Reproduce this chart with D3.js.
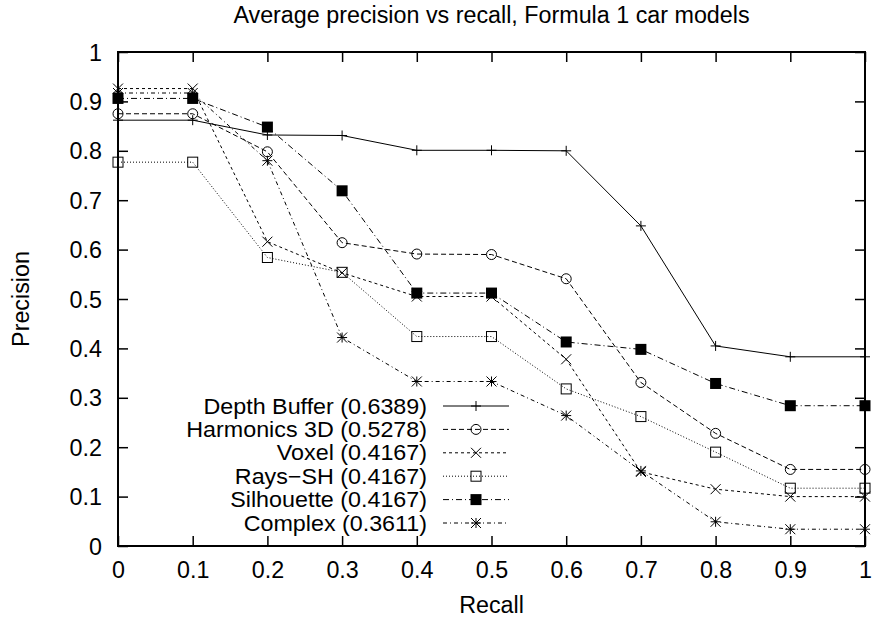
<!DOCTYPE html>
<html>
<head>
<meta charset="utf-8">
<script src="https://cdn.jsdelivr.net/npm/d3@7"></script>
<style>
  html, body { margin: 0; padding: 0; background: #fff; }
  svg text { font-family: "Liberation Sans", Arial, Helvetica, sans-serif; fill: #000; }
</style>
</head>
<body>
<svg id="chart" width="873" height="618"></svg>
<script>
// Recall levels (x) and interpolated average precision per descriptor (y)
const recall = [0, 0.1, 0.2, 0.3, 0.4, 0.5, 0.6, 0.7, 0.8, 0.9, 1.0];
const depthBuffer = [0.862, 0.862, 0.832, 0.831, 0.801, 0.801, 0.800, 0.648, 0.405, 0.383, 0.383];
const harmonics3D = [0.875, 0.875, 0.798, 0.614, 0.591, 0.590, 0.541, 0.331, 0.228, 0.155, 0.155];
const voxel       = [0.926, 0.926, 0.616, 0.553, 0.505, 0.505, 0.378, 0.150, 0.115, 0.100, 0.100];
const raysSH      = [0.777, 0.777, 0.584, 0.554, 0.424, 0.424, 0.318, 0.262, 0.190, 0.117, 0.117];
const silhouette  = [0.906, 0.906, 0.848, 0.719, 0.512, 0.512, 0.413, 0.398, 0.329, 0.284, 0.284];
const complex     = [0.917, 0.917, 0.780, 0.422, 0.333, 0.333, 0.264, 0.152, 0.049, 0.034, 0.034];

const seriesNames = ["Depth Buffer (0.6389)", "Harmonics 3D (0.5278)", "Voxel (0.4167)",
                     "Rays\u2212SH (0.4167)", "Silhouette (0.4167)", "Complex (0.3611)"];
const seriesValues = [depthBuffer, harmonics3D, voxel, raysSH, silhouette, complex];
const xTicks = [0, 0.1, 0.2, 0.3, 0.4, 0.5, 0.6, 0.7, 0.8, 0.9, 1];
const yTicks = [0, 0.1, 0.2, 0.3, 0.4, 0.5, 0.6, 0.7, 0.8, 0.9, 1];

const titleText = "Average precision vs recall, Formula 1 car models";
const xLabel = "Recall";
const yLabel = "Precision";

// Line dash patterns and marker kinds, one per series
const dashes = [null, "5,3", "3,3", "1,2", "6,3,1,3", "4,3,1,3"];
const markers = ["plus", "circle", "cross", "square", "filledSquare", "star"];

const svg = d3.select("#chart");
const margin = { left: 118, right: 8, top: 52, bottom: 72 };
const W = 873, H = 618;
const x = d3.scaleLinear().domain([0, 1]).range([margin.left, W - margin.right]);
const y = d3.scaleLinear().domain([0, 1]).range([H - margin.bottom, margin.top]);
const fontSize = 23.3;

// Axes with inward, mirrored ticks
const fmt = d => (d === 0 ? "0" : d === 1 ? "1" : d3.format(".1f")(d));
const tickLen = 10;

const gx = svg.append("g").attr("transform", `translate(0,${y(0)})`)
  .call(d3.axisBottom(x).tickValues(xTicks).tickFormat(fmt).tickSizeInner(-tickLen).tickSizeOuter(0).tickPadding(20));
const gxTop = svg.append("g").attr("transform", `translate(0,${y(1)})`)
  .call(d3.axisTop(x).tickValues(xTicks).tickFormat("").tickSizeInner(-tickLen).tickSizeOuter(0));
const gy = svg.append("g").attr("transform", `translate(${x(0)},0)`)
  .call(d3.axisLeft(y).tickValues(yTicks).tickFormat(fmt).tickSizeInner(-tickLen).tickSizeOuter(0).tickPadding(16));
const gyRight = svg.append("g").attr("transform", `translate(${x(1)},0)`)
  .call(d3.axisRight(y).tickValues(yTicks).tickFormat("").tickSizeInner(-tickLen).tickSizeOuter(0));

[gx, gxTop, gy, gyRight].forEach(g => {
  g.select(".domain").remove();
  g.selectAll(".tick line").attr("stroke", "#000").attr("stroke-width", 1.5);
  g.selectAll(".tick text").attr("font-size", fontSize)
    .attr("font-family", "Liberation Sans, Arial, Helvetica, sans-serif").attr("fill", "#000");
});
gx.selectAll(".tick text").attr("dy", "0.71em").attr("y", 15);
gy.selectAll(".tick text").attr("dy", "0.35em").attr("x", -16);

// Plot border
svg.append("rect")
  .attr("x", x(0)).attr("y", y(1))
  .attr("width", x(1) - x(0)).attr("height", y(0) - y(1))
  .attr("fill", "none").attr("stroke", "#000").attr("stroke-width", 2);

// Titles
svg.append("text").attr("x", (x(0) + x(1)) / 2).attr("y", 23)
  .attr("text-anchor", "middle").attr("font-size", fontSize).text(titleText);
svg.append("text").attr("x", (x(0) + x(1)) / 2).attr("y", 613)
  .attr("text-anchor", "middle").attr("font-size", fontSize).text(xLabel);
svg.append("text").attr("transform", `translate(29,${(y(0) + y(1)) / 2}) rotate(-90)`)
  .attr("text-anchor", "middle").attr("font-size", fontSize).text(yLabel);

// Marker drawing
function drawMarker(g, kind, cx, cy) {
  const s = 5;
  const st = { stroke: "#000", "stroke-width": 1, fill: "none" };
  const apply = (sel, attrs) => { Object.entries(attrs).forEach(([k, v]) => sel.attr(k, v)); return sel; };
  if (kind === "plus") {
    apply(g.append("path").attr("d", `M${cx - s},${cy}H${cx + s}M${cx},${cy - s}V${cy + s}`), st);
  } else if (kind === "circle") {
    apply(g.append("circle").attr("cx", cx).attr("cy", cy).attr("r", s), st);
  } else if (kind === "cross") {
    apply(g.append("path").attr("d", `M${cx - s},${cy - s}L${cx + s},${cy + s}M${cx - s},${cy + s}L${cx + s},${cy - s}`), st);
  } else if (kind === "square") {
    apply(g.append("rect").attr("x", cx - s).attr("y", cy - s).attr("width", 2 * s).attr("height", 2 * s), st);
  } else if (kind === "filledSquare") {
    g.append("rect").attr("x", cx - s - 0.5).attr("y", cy - s - 0.5).attr("width", 2 * s + 1).attr("height", 2 * s + 1).attr("fill", "#000");
  } else if (kind === "star") {
    apply(g.append("path").attr("d",
      `M${cx - s},${cy}H${cx + s}M${cx},${cy - s}V${cy + s}` +
      `M${cx - s},${cy - s}L${cx + s},${cy + s}M${cx - s},${cy + s}L${cx + s},${cy - s}`), st);
  }
}

const line = d3.line().x(d => x(d[0])).y(d => y(d[1]));

// Legend rows (tightly stacked, so the text is set a bit smaller and widened),
// then each series drawn over the frame
const legendTextX = 427, legendLine0 = 443, legendLine1 = 509;
const legendY0 = 406, legendStep = 23.4;
const legendFont = 20.6, legendStretch = fontSize / 20.6;

seriesValues.forEach((vals, i) => {
  const g = svg.append("g");
  const ly = legendY0 + i * legendStep;
  g.append("text")
    .attr("transform", `translate(${legendTextX},${ly}) scale(${legendStretch},1.06)`)
    .attr("dy", "0.35em")
    .attr("text-anchor", "end").attr("font-size", legendFont).text(seriesNames[i]);
  g.append("line").attr("x1", legendLine0).attr("x2", legendLine1).attr("y1", ly).attr("y2", ly)
    .attr("stroke", "#000").attr("stroke-width", 1).attr("stroke-dasharray", dashes[i]);
  drawMarker(g, markers[i], (legendLine0 + legendLine1) / 2, ly);

  const pts = recall.map((r, j) => [r, vals[j]]);
  g.append("path").attr("d", line(pts)).attr("fill", "none")
    .attr("stroke", "#000").attr("stroke-width", 1).attr("stroke-dasharray", dashes[i]);
  pts.forEach(p => drawMarker(g, markers[i], x(p[0]), y(p[1])));
});
</script>
</body>
</html>
